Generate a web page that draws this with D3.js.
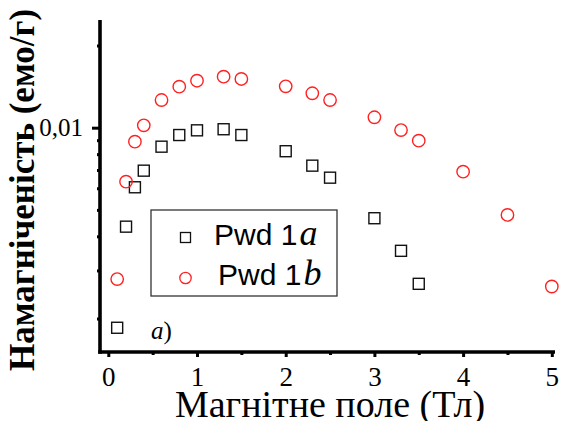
<!DOCTYPE html>
<html>
<head>
<meta charset="utf-8">
<script src="https://cdn.jsdelivr.net/npm/d3@7/dist/d3.min.js"></script>
<style>
  html, body { margin: 0; padding: 0; background: #fff; }
  svg { display: block; }
</style>
</head>
<body>
<script>
// ---- data ----
const fieldA = [0.1, 0.2, 0.3, 0.4, 0.6, 0.8, 1.0, 1.3, 1.5, 2.0, 2.3, 2.5, 3.0, 3.3, 3.5];
const magA   = [0.00185, 0.00434, 0.00605, 0.00696, 0.00852, 0.00940, 0.00978, 0.00987, 0.00940, 0.00820, 0.00726, 0.00656, 0.00466, 0.00354, 0.00268];
const fieldB = [0.1, 0.2, 0.3, 0.4, 0.6, 0.8, 1.0, 1.3, 1.5, 2.0, 2.3, 2.5, 3.0, 3.3, 3.5, 4.0, 4.5, 5.0];
const magB   = [0.00279, 0.00634, 0.00889, 0.0102, 0.01263, 0.01413, 0.01486, 0.01538, 0.01508, 0.01418, 0.01337, 0.01263, 0.01092, 0.0098, 0.00896, 0.0069, 0.00479, 0.00262];
const xMajorTicks = [0, 1, 2, 3, 4, 5];
const xMinorTicks = [0.5, 1.5, 2.5, 3.5, 4.5];
const yMajorTicks = [0.01];
const yMajorLabels = ["0,01"];
const yMinorTicks = [0.002, 0.003, 0.004, 0.005, 0.006, 0.007, 0.008, 0.009, 0.02];
const seriesNames = ["Pwd 1", "Pwd 1"];
const seriesSuffix = ["a", "b"];
const xTitle = "Магнітне поле (Тл)";
const yTitle = "Намагніченість (емо/г)";
const panelLabel = "a";

const W = 561, H = 421;
const pLeft = 100, pRight = 555, pTop = 20, pBottom = 352;

const svg = d3.select("body").append("svg").attr("width", W).attr("height", H);

const x = d3.scaleLinear().domain([-0.0936, 5.036]).range([pLeft, pRight]);
const y = d3.scaleLog().domain([0.001508, 0.0248]).range([pBottom, pTop]);

const serif = "'Liberation Serif','Times New Roman',Times,serif";
const sans = "'Liberation Sans',Arial,Helvetica,sans-serif";

// ---- axes ----
const gx = svg.append("g").attr("transform", `translate(0,${pBottom})`);
gx.call(d3.axisBottom(x).tickValues(xMajorTicks).tickSize(5).tickSizeOuter(0).tickFormat(d3.format("d")));
const gxm = svg.append("g").attr("transform", `translate(0,${pBottom})`);
gxm.call(d3.axisBottom(x).tickValues(xMinorTicks).tickSize(3).tickSizeOuter(0).tickFormat(""));
gxm.select(".domain").remove();

const gy = svg.append("g").attr("transform", `translate(${pLeft},0)`);
gy.call(d3.axisLeft(y).tickValues(yMajorTicks).tickSize(8).tickSizeOuter(0).tickFormat((d, i) => yMajorLabels[i]));
const gym = svg.append("g").attr("transform", `translate(${pLeft},0)`);
gym.call(d3.axisLeft(y).tickValues(yMinorTicks).tickSize(3).tickSizeOuter(0).tickFormat(""));
gym.select(".domain").remove();

svg.selectAll(".domain").attr("stroke", "#000").attr("stroke-width", 3.6);
svg.selectAll(".tick line").attr("stroke", "#000").attr("stroke-width", 3);
gx.selectAll(".tick text")
  .style("font-family", serif).style("font-size", "27px").attr("fill", "#000")
  .attr("y", 34).attr("dy", 0);
gy.selectAll(".tick text")
  .style("font-family", serif).style("font-size", "25px").attr("fill", "#000")
  .attr("x", -17).attr("dy", "0.33em");
// extend y domain line to top and join at corner
gy.select(".domain").attr("d", `M0,${pTop}V${pBottom + 1.8}`);
gx.select(".domain").attr("d", `M${pLeft - 1.8},0H${pRight}`);

// ---- markers ----
const plot = svg.append("g");
const sq = 11;
plot.selectAll("rect.a").data(fieldA.map((v, i) => [v, magA[i]])).enter()
  .append("rect").attr("class", "a")
  .attr("x", d => x(d[0]) - sq / 2).attr("y", d => y(d[1]) - sq / 2)
  .attr("width", sq).attr("height", sq)
  .attr("fill", "none").attr("stroke", "#111").attr("stroke-width", 1.4);
plot.selectAll("circle.b").data(fieldB.map((v, i) => [v, magB[i]])).enter()
  .append("circle").attr("class", "b")
  .attr("cx", d => x(d[0])).attr("cy", d => y(d[1])).attr("r", 6.2)
  .attr("fill", "none").attr("stroke", "#ff2020").attr("stroke-width", 1.4);

// ---- legend ----
const lg = svg.append("g");
lg.append("rect").attr("x", 151).attr("y", 210).attr("width", 186).attr("height", 86)
  .attr("fill", "#fff").attr("stroke", "#333").attr("stroke-width", 1.3);
lg.append("rect").attr("x", 180.5).attr("y", 232.5).attr("width", 10).attr("height", 10)
  .attr("fill", "none").attr("stroke", "#111").attr("stroke-width", 1.3);
lg.append("circle").attr("cx", 185.5).attr("cy", 278).attr("r", 5.7)
  .attr("fill", "none").attr("stroke", "#ff2020").attr("stroke-width", 1.3);
const lt = [[214, 245], [218, 285]];
seriesNames.forEach((n, i) => {
  const t = lg.append("text").attr("x", lt[i][0]).attr("y", lt[i][1])
    .style("font-family", sans).style("font-size", "30px").attr("fill", "#000");
  t.append("tspan").text(n);
  t.append("tspan").attr("dx", 2).style("font-family", serif).style("font-style", "italic")
    .style("font-size", "36px").text(seriesSuffix[i]);
});

// ---- panel label ----
const pl = svg.append("text").attr("x", 151).attr("y", 339)
  .style("font-family", serif).style("font-size", "25px").attr("fill", "#000");
pl.append("tspan").style("font-style", "italic").text(panelLabel);
pl.append("tspan").text(")");

// ---- titles ----
svg.append("text").attr("x", 330).attr("y", 417).attr("text-anchor", "middle")
  .style("font-family", serif).style("font-size", "38px").attr("fill", "#000").text(xTitle);
svg.append("text").attr("transform", "translate(34,190) rotate(-90)").attr("text-anchor", "middle")
  .style("font-family", serif).style("font-weight", "bold").style("font-size", "35px").attr("fill", "#000").text(yTitle);
</script>
</body>
</html>
